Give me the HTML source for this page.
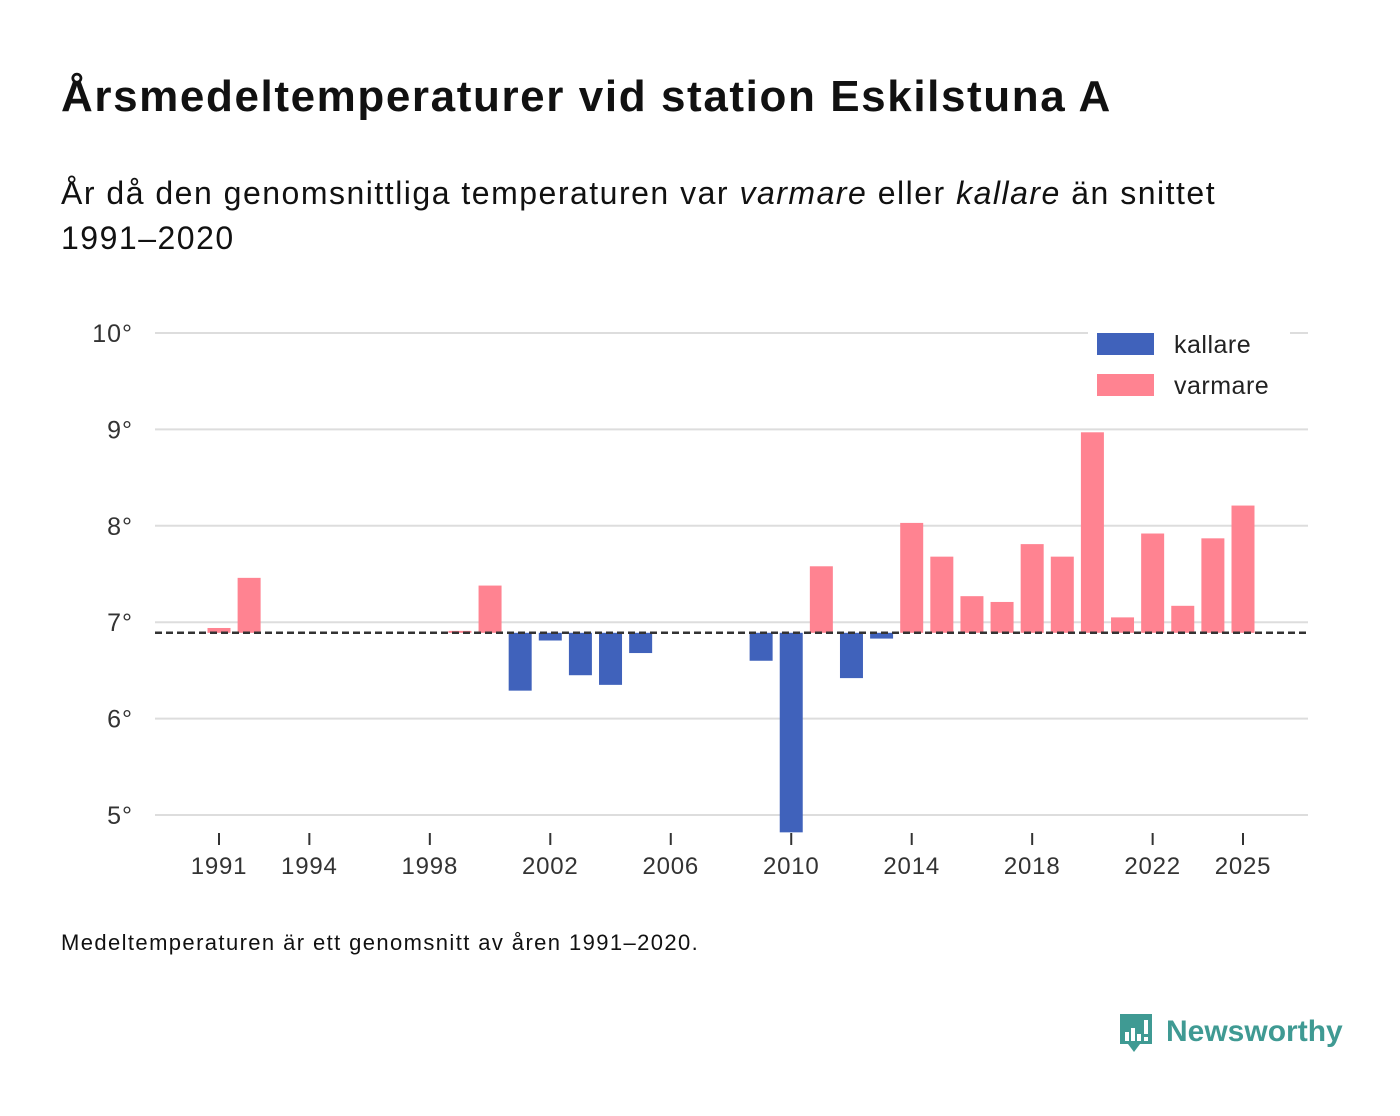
<!DOCTYPE html>
<html><head><meta charset="utf-8"><style>
body{margin:0;background:#fff;font-family:"Liberation Sans","DejaVu Sans",sans-serif;}
#wrap{position:relative;width:1400px;height:1116px;overflow:hidden;}
h1{position:absolute;left:61px;top:72px;margin:0;font-size:44px;letter-spacing:1.6px;font-weight:bold;color:#111;}
#sub{position:absolute;left:61px;top:171px;width:1250px;margin:0;font-size:32px;letter-spacing:1.5px;line-height:45px;color:#111;}
#note{position:absolute;left:61px;top:930px;font-size:22px;letter-spacing:1.4px;color:#111;}
#logo{position:absolute;left:1118px;top:1012px;}
</style></head><body><div id="wrap">
<h1>Årsmedeltemperaturer vid station Eskilstuna A</h1>
<p id="sub">År då den genomsnittliga temperaturen var <i>varmare</i> eller <i>kallare</i> än snittet<br>1991–2020</p>
<svg id="chart" width="1400" height="1116" style="position:absolute;left:0;top:0"></svg>
<div id="note">Medeltemperaturen är ett genomsnitt av åren 1991–2020.</div>
<div id="logo">
<svg width="230" height="46"><path d="M2 2h32v30H22l-6 8-6-8H2z" fill="#3f9a93"/><rect x="7" y="20" width="4" height="9" fill="#fff"/><rect x="13" y="16" width="4" height="13" fill="#fff"/><rect x="19" y="22" width="4" height="7" fill="#fff"/><rect x="26" y="8" width="4" height="14" fill="#fff"/><rect x="26" y="25" width="4" height="4" fill="#fff"/>
<text x="48" y="29" font-size="30" font-weight="bold" fill="#3f9a93" font-family="Liberation Sans, sans-serif">Newsworthy</text></svg></div>
</div>
<script>
const years=[1991,1992,1999,2000,2001,2002,2003,2004,2005,2009,2010,2011,2012,2013,2014,2015,2016,2017,2018,2019,2020,2021,2022,2023,2024,2025];
const temps=[6.94,7.46,6.91,7.38,6.29,6.81,6.45,6.35,6.68,6.60,4.82,7.58,6.42,6.83,8.03,7.68,7.27,7.21,7.81,7.68,8.97,7.05,7.92,7.17,7.87,8.21];
const baseline=6.89;
const yTicks=[5,6,7,8,9,10];
const xTicks=[1991,1994,1998,2002,2006,2010,2014,2018,2022,2025];
const NS="http://www.w3.org/2000/svg";
const svg=document.getElementById('chart');
const y=v=>815-(v-5)*96.4;
const x=yr=>219+(yr-1991)*(1024/34);
function mk(t,a,p){const e=document.createElementNS(NS,t);for(const k in a)e.setAttribute(k,a[k]);(p||svg).appendChild(e);return e;}
yTicks.forEach(v=>{
 const l=mk('line',{x1:155,x2:1308,y1:y(v),y2:y(v),stroke:'#ddd','stroke-width':2});
 
 
 const t=mk('text',{x:133,y:y(v)+9,'text-anchor':'end','font-size':25,'letter-spacing':1,fill:'#333'});
 t.textContent=v+'°';
 
 
});
xTicks.forEach(v=>{
 const l=mk('line',{x1:x(v),x2:x(v),y1:833,y2:845,stroke:'#333','stroke-width':2});
 
 
 const t=mk('text',{x:x(v),y:874,'text-anchor':'middle','font-size':24,'letter-spacing':0.8,fill:'#333'});
 t.textContent=v;
 
 
});
years.forEach((yr,i)=>{
 const v=temps[i],warm=v>=baseline;
 const r=mk('rect',{x:x(yr)-11.5,width:23,y:Math.min(y(v),y(baseline)),height:Math.abs(y(v)-y(baseline)),fill:warm?'#ff8391':'#4062bb'});
 
 
});
const bl=mk('line',{x1:155,x2:1308,y1:y(baseline),y2:y(baseline),stroke:'#333','stroke-width':2.5,'stroke-dasharray':'7,4'});


const lg=mk('rect',{x:1088,y:331,width:202,height:76,fill:'#fff'});


[['kallare','#4062bb',333],['varmare','#ff8391',374]].forEach(([n,c,yy])=>{
 const r=mk('rect',{x:1097,y:yy,width:57,height:22,fill:c});
 
 
 const t=mk('text',{x:1174,y:yy+20,'font-size':25,'letter-spacing':0.5,fill:'#222'});
 t.textContent=n;
 
 
});
</script></body></html>
